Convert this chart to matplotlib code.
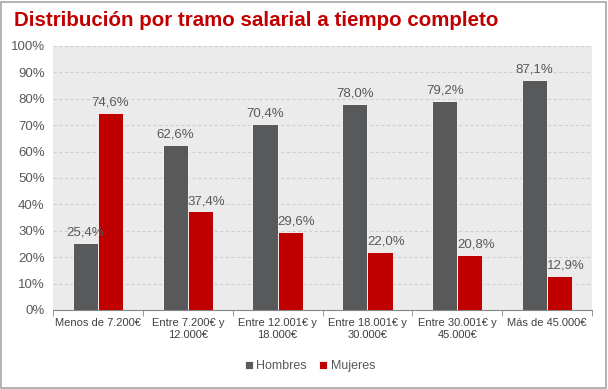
import matplotlib
matplotlib.use("Agg")
import matplotlib.pyplot as plt
import numpy as np
from matplotlib.patches import Rectangle

categories = ["Menos de 7.200€", "Entre 7.200€ y\n12.000€", "Entre 12.001€ y\n18.000€",
              "Entre 18.001€ y\n30.000€", "Entre 30.001€ y\n45.000€", "Más de 45.000€"]
hombres = [25.4, 62.6, 70.4, 78.0, 79.2, 87.1]
mujeres = [74.6, 37.4, 29.6, 22.0, 20.8, 12.9]
yticks = [0, 10, 20, 30, 40, 50, 60, 70, 80, 90, 100]

plt.rcParams['font.family'] = ['Liberation Sans', 'DejaVu Sans']
W, H = 608, 389
fig = plt.figure(figsize=(W/100, H/100), dpi=100)
fig.patch.set_facecolor('white')
fig.add_artist(Rectangle((1/W, 1/H), 1-3/W, 1-3/H, transform=fig.transFigure,
                         fill=False, edgecolor='#a6a6a6', lw=1.2))

ax = fig.add_axes([53/W, 1-310/H, (592-53)/W, (310-46)/H])
ax.set_facecolor('#ebebeb')
x = np.arange(len(categories))
bw = 0.28
c_h = '#58595b'
c_m = '#c00000'
b1 = ax.bar(x - bw/2, hombres, bw, color=c_h, label='Hombres', zorder=3, edgecolor='white', linewidth=0.6)
b2 = ax.bar(x + bw/2, mujeres, bw, color=c_m, label='Mujeres', zorder=3, edgecolor='white', linewidth=0.6)
for xi, v in zip(x - bw/2, hombres):
    ax.annotate(f"{v:.1f}%".replace('.', ','), (xi, v), xytext=(0, 3), textcoords='offset points',
                ha='center', va='bottom', fontsize=9.5, color='#595959', zorder=4)
for xi, v, vh in zip(x + bw/2, mujeres, hombres):
    dx = 4.5 if vh > v else 0
    ax.annotate(f"{v:.1f}%".replace('.', ','), (xi, v), xytext=(dx, 3), textcoords='offset points',
                ha='center', va='bottom', fontsize=9.5, color='#595959', zorder=4)

ax.set_xlim(-0.5, len(categories) - 0.5)
ax.set_ylim(0, 100)
ax.set_yticks(yticks)
ax.set_yticklabels([f"{t}%" for t in yticks], fontsize=9.5, color='#595959')
ax.yaxis.grid(True, color='#d0d0d0', linestyle=(0, (3, 2)), linewidth=0.8, zorder=0)
ax.set_axisbelow(True)
ax.set_xticks(x)
ax.set_xticklabels(categories, fontsize=8, color='#404040')
ax.tick_params(axis='x', length=0, pad=6)
ax.set_xticks(np.arange(-0.5, len(categories)), minor=True)
ax.tick_params(axis='x', which='minor', length=4, color='#868686')
ax.tick_params(axis='y', length=0, pad=6)
for s in ['top', 'right', 'left']:
    ax.spines[s].set_visible(False)
ax.spines['bottom'].set_color('#868686')

fig.text(14/W, 1-20/H, "Distribución por tramo salarial a tiempo completo", fontsize=14.8,
         fontweight='bold', color='#c00000', ha='left', va='center')

fig.legend(handles=[b1, b2], labels=['Hombres', 'Mujeres'], loc='center',
           bbox_to_anchor=(0.51, 1-366/H), ncol=2, frameon=False, fontsize=9,
           handlelength=0.6, handleheight=0.6, handletextpad=0.3, columnspacing=1.0,
           labelcolor='#595959')

fig.savefig('out.png', dpi=100)
